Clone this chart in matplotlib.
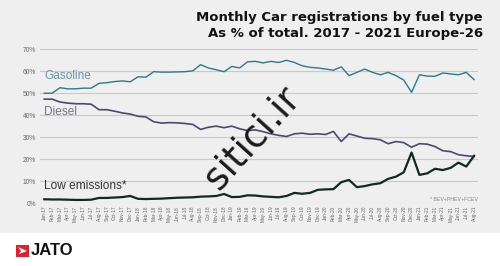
import matplotlib
matplotlib.use("Agg")
import matplotlib.pyplot as plt
from matplotlib.patches import Rectangle, Polygon

months = ["Jan", "Feb", "Mar", "Apr", "May", "Jun", "Jul", "Aug", "Sep", "Oct", "Nov", "Dec"]
labels = [f"{m}-{y}" for y in ["17", "18", "19", "20", "21"] for m in months][:56]

gasoline = [50, 50, 52.5, 52, 52, 52.3, 52.3, 54.5, 54.8, 55.3, 55.6, 55.2,
            57.5, 57.3, 59.8, 59.6, 59.6, 59.7, 59.8, 60.2, 63, 61.5, 60.7, 59.8,
            62.2, 61.5, 64.3, 64.5, 63.8, 64.5, 64, 65, 64, 62.5, 61.8, 61.5,
            61, 60.5, 62, 58, 59.5, 61, 59.5, 58.4, 59.5, 58, 56, 50.4,
            58.4, 57.8, 57.7, 59.2, 58.8, 58.4, 59.5, 56.2]
diesel = [47.3, 47.3, 46, 45.5, 45.2, 45.2, 45, 42.5, 42.5, 41.8, 41, 40.5,
          39.5, 39.2, 37, 36.4, 36.6, 36.5, 36.2, 35.8, 33.5, 34.5, 35, 34.3,
          35, 33.8, 33, 33.3, 32.5, 31.5, 30.8, 30.3, 31.5, 31.8, 31.3, 31.5,
          31.2, 32.6, 28, 31.5, 30.5, 29.5, 29.3, 28.8, 27, 28, 27.5, 25.4,
          27, 26.8, 25.7, 23.8, 23.4, 22, 21.5, 21.2]
low_emissions = [1.7, 1.6, 1.6, 1.5, 1.4, 1.4, 1.5, 2.3, 2.3, 2.5, 2.7, 3.2,
                 1.9, 1.8, 1.9, 2.0, 2.2, 2.4, 2.5, 2.6, 2.9, 3.0, 3.2, 4.1,
                 2.7, 2.8, 3.5, 3.4, 3.0, 2.8, 2.6, 3.2, 4.6, 4.2, 4.6, 6.0,
                 6.2, 6.3, 9.5, 10.5, 7.2, 7.7, 8.5, 9.0, 11.0, 12.0, 14.0, 23.0,
                 12.8, 13.5, 15.6, 15.0, 16.0, 18.4, 16.6, 21.5]
yticks = [0, 10, 20, 30, 40, 50, 60, 70]

W, H = 500, 266
fig = plt.figure(figsize=(5, 2.66), dpi=100)
fig.patch.set_facecolor("#efefef")
fig.patches.append(Rectangle((0, 0), 1, (H - 233) / H, transform=fig.transFigure,
                             facecolor="white", edgecolor="none", zorder=0))

ax = fig.add_axes([40 / W, (H - 203) / H, (478 - 40) / W, (203 - 49.3) / H])
ax.set_facecolor("none")
x = list(range(len(labels)))
ax.set_xlim(-0.55, 55.5)
ax.set_ylim(0, 70)
for sp in ax.spines.values():
    sp.set_visible(False)
ax.set_yticks(yticks)
ax.set_yticklabels([f"{v}%" for v in yticks], fontsize=4.8, color="#666666",
                   family="Liberation Sans")
ax.set_xticks(x)
ax.set_xticklabels(labels, rotation=90, fontsize=3.4, color="#666666",
                   family="Liberation Sans")
ax.tick_params(length=0, pad=3)
ax.tick_params(axis="x", pad=2)
ax.grid(axis="y", color="#c9c9c9", linewidth=0.8)
ax.set_axisbelow(True)

ax.plot(x, gasoline, color="#2b7a8c", linewidth=1.0, clip_on=False)
ax.plot(x, diesel, color="#4b4a6c", linewidth=1.2, clip_on=False)
ax.plot(x, low_emissions, color="#0e2a22", linewidth=1.6, clip_on=False)

def px(xp, yp):
    return xp / W, 1 - yp / H

fig.text(*px(44, 76), "Gasoline", fontsize=8.6, color="#6a98a6",
         family="Liberation Sans", va="center", ha="left")
fig.text(*px(44, 112), "Diesel", fontsize=8.6, color="#747486",
         family="Liberation Sans", va="center", ha="left")
fig.text(*px(44, 186), "Low emissions*", fontsize=8.6, color="#333333",
         family="Liberation Sans", va="center", ha="left")
fig.text(*px(478, 199.5), "* BEV+PHEV+FCEV", fontsize=3.8, color="#888888",
         family="Liberation Sans", va="center", ha="right")

fig.text(*px(483, 17), "Monthly Car registrations by fuel type", fontsize=9.5,
         fontweight="bold", color="#111111", family="DejaVu Sans",
         va="center", ha="right")
fig.text(*px(483, 33), "As % of total. 2017 - 2021 Europe-26", fontsize=9.5,
         fontweight="bold", color="#111111", family="DejaVu Sans",
         va="center", ha="right")

# watermark
fig.text(*px(253, 138), "sitici.ir", fontsize=27, color="#1a1a1a",
         family="DejaVu Sans", rotation=48, va="center", ha="center")

# JATO logo
fig.patches.append(Rectangle(px(16, 257), 13 / W, 12 / H, transform=fig.transFigure,
                             facecolor="#e0202a", edgecolor="none"))
fig.patches.append(Polygon([px(18, 247), px(27, 251), px(19, 254), px(21, 251)],
                           closed=True, transform=fig.transFigure,
                           facecolor="white", edgecolor="none"))
fig.text(*px(30.5, 250.5), "JATO", fontsize=12, fontweight="bold", color="#111111",
         family="Liberation Sans", va="center", ha="left")

fig.savefig("out.png", dpi=100, facecolor=fig.get_facecolor())
